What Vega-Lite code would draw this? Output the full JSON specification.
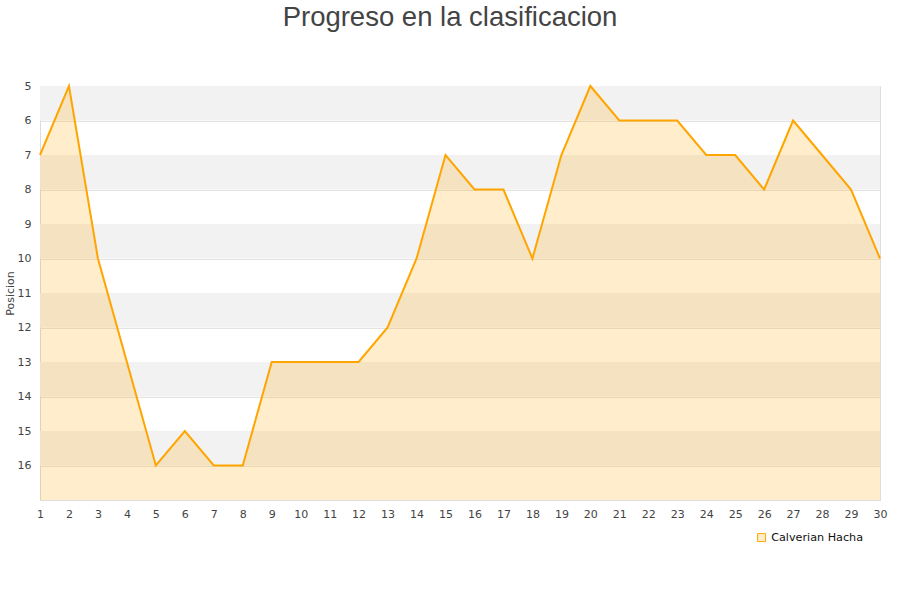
{
  "$schema": "https://vega.github.io/schema/vega-lite/v6.json",
  "autosize": "none",
  "width": 840,
  "height": 414,
  "padding": {"left": 40, "top": 86, "right": 20, "bottom": 100},
  "background": "white",
  "title": {
    "text": "Progreso en la clasificacion",
    "font": "Liberation Sans",
    "fontSize": 27.5,
    "fontWeight": "normal",
    "color": "#444444",
    "anchor": "middle",
    "offset": 49,
    "dx": -10
  },
  "config": {
    "view": {"stroke": "#dddddd", "strokeWidth": 1},
    "axis": {"labelFont": "DejaVu Sans", "titleFont": "DejaVu Sans", "labelColor": "#444444", "titleColor": "#444444"}
  },
  "datasets": {
    "pos": [
      {"jornada": 1, "posicion": 7, "equipo": "Calverian Hacha"},
      {"jornada": 2, "posicion": 5, "equipo": "Calverian Hacha"},
      {"jornada": 3, "posicion": 10, "equipo": "Calverian Hacha"},
      {"jornada": 4, "posicion": 13, "equipo": "Calverian Hacha"},
      {"jornada": 5, "posicion": 16, "equipo": "Calverian Hacha"},
      {"jornada": 6, "posicion": 15, "equipo": "Calverian Hacha"},
      {"jornada": 7, "posicion": 16, "equipo": "Calverian Hacha"},
      {"jornada": 8, "posicion": 16, "equipo": "Calverian Hacha"},
      {"jornada": 9, "posicion": 13, "equipo": "Calverian Hacha"},
      {"jornada": 10, "posicion": 13, "equipo": "Calverian Hacha"},
      {"jornada": 11, "posicion": 13, "equipo": "Calverian Hacha"},
      {"jornada": 12, "posicion": 13, "equipo": "Calverian Hacha"},
      {"jornada": 13, "posicion": 12, "equipo": "Calverian Hacha"},
      {"jornada": 14, "posicion": 10, "equipo": "Calverian Hacha"},
      {"jornada": 15, "posicion": 7, "equipo": "Calverian Hacha"},
      {"jornada": 16, "posicion": 8, "equipo": "Calverian Hacha"},
      {"jornada": 17, "posicion": 8, "equipo": "Calverian Hacha"},
      {"jornada": 18, "posicion": 10, "equipo": "Calverian Hacha"},
      {"jornada": 19, "posicion": 7, "equipo": "Calverian Hacha"},
      {"jornada": 20, "posicion": 5, "equipo": "Calverian Hacha"},
      {"jornada": 21, "posicion": 6, "equipo": "Calverian Hacha"},
      {"jornada": 22, "posicion": 6, "equipo": "Calverian Hacha"},
      {"jornada": 23, "posicion": 6, "equipo": "Calverian Hacha"},
      {"jornada": 24, "posicion": 7, "equipo": "Calverian Hacha"},
      {"jornada": 25, "posicion": 7, "equipo": "Calverian Hacha"},
      {"jornada": 26, "posicion": 8, "equipo": "Calverian Hacha"},
      {"jornada": 27, "posicion": 6, "equipo": "Calverian Hacha"},
      {"jornada": 28, "posicion": 7, "equipo": "Calverian Hacha"},
      {"jornada": 29, "posicion": 8, "equipo": "Calverian Hacha"},
      {"jornada": 30, "posicion": 10, "equipo": "Calverian Hacha"}
    ],
    "bands": [
      {"desde": 5, "hasta": 6},
      {"desde": 7, "hasta": 8},
      {"desde": 9, "hasta": 10},
      {"desde": 11, "hasta": 12},
      {"desde": 13, "hasta": 14},
      {"desde": 15, "hasta": 16}
    ]
  },
  "encoding": {
    "x": {
      "type": "quantitative",
      "scale": {"domain": [1, 30], "nice": false, "zero": false},
      "axis": {"title": null, "values": [1,2,3,4,5,6,7,8,9,10,11,12,13,14,15,16,17,18,19,20,21,22,23,24,25,26,27,28,29,30], "grid": false, "ticks": false, "domain": false, "labelPadding": 8, "labelFontSize": 11, "labelFlush": false, "labelOverlap": false}
    },
    "y": {
      "type": "quantitative",
      "scale": {"domain": [5, 17], "reverse": true, "nice": false, "zero": false},
      "axis": {"title": "Posicion", "titleFontSize": 11, "titleFontWeight": "normal", "titlePadding": 2, "values": [5,6,7,8,9,10,11,12,13,14,15,16], "grid": true, "gridColor": "#e3e3e3", "ticks": false, "domain": false, "labelPadding": 9, "labelFontSize": 11, "labelOverlap": false}
    }
  },
  "layer": [
    {
      "data": {"name": "bands"},
      "mark": {"type": "rect", "color": "#f2f2f2"},
      "encoding": {
        "y": {"field": "desde", "type": "quantitative", "title": "Posicion"},
        "y2": {"field": "hasta"}
      }
    },
    {
      "data": {"name": "pos"},
      "mark": {"type": "area", "color": "#ffa500", "opacity": 0.2},
      "encoding": {
        "x": {"field": "jornada", "type": "quantitative", "title": null},
        "y": {"field": "posicion", "type": "quantitative", "title": "Posicion"},
        "y2": {"datum": 17}
      }
    },
    {
      "data": {"name": "pos"},
      "mark": {"type": "line", "strokeWidth": 2},
      "encoding": {
        "x": {"field": "jornada", "type": "quantitative", "title": null},
        "y": {"field": "posicion", "type": "quantitative", "title": "Posicion"},
        "color": {
          "field": "equipo", "type": "nominal",
          "scale": {"range": ["#ffa500"]},
          "legend": {
            "title": null,
            "orient": "none",
            "legendX": 716,
            "legendY": 446,
            "symbolType": "square",
            "symbolSize": 64,
            "labelFont": "DejaVu Sans",
            "labelFontSize": 11.2,
            "labelColor": "#111111",
            "encode": {"symbols": {"update": {"fill": {"value": "#ffedcc"}, "stroke": {"value": "#c8a060"}, "strokeWidth": {"value": 1}}}}
          }
        }
      }
    }
  ]
}
